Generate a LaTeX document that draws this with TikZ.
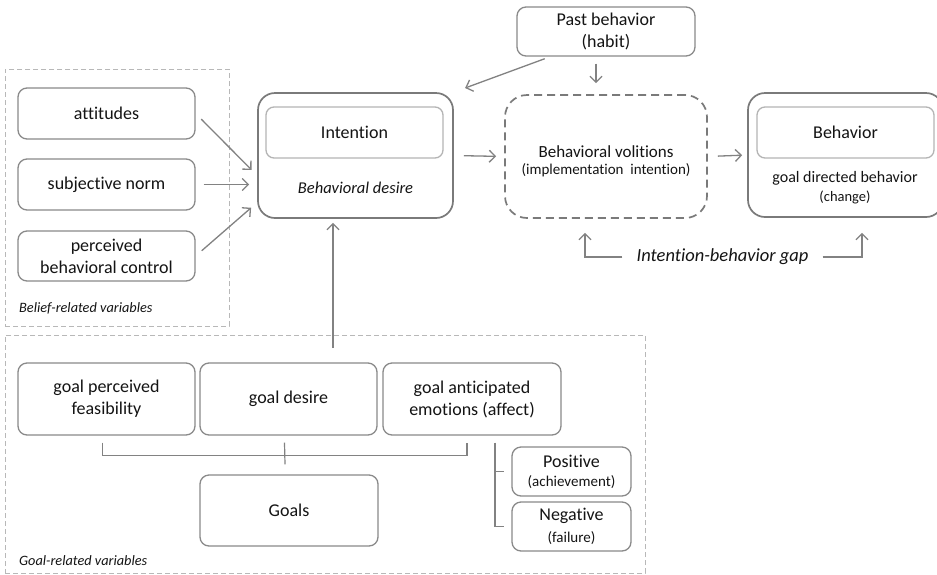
\documentclass[tikz,border=0pt]{standalone}
\usepackage{fontspec}
\setmainfont{Carlito}[Ligatures=NoCommon]
\usetikzlibrary{arrows.meta,calc}
\definecolor{txt}{HTML}{141414}
\definecolor{bord}{HTML}{8A8A8A}
\definecolor{lbord}{HTML}{B4B4B4}
\definecolor{obord}{HTML}{7A7A7A}
\definecolor{grp}{HTML}{B8B8B8}
\definecolor{arrc}{HTML}{828282}
\begin{document}
\begin{tikzpicture}[x=1pt,y=-1pt,
  box/.style={draw=bord, line width=1.3pt, rounded corners=9pt, text=txt, align=center,
    inner sep=0pt, font=\fontsize{18}{22}\selectfont},
  innerbox/.style={draw=lbord, line width=1.3pt, rounded corners=8pt, text=txt, align=center,
    inner sep=0pt, font=\fontsize{18}{22}\selectfont},
  outerbox/.style={draw=obord, line width=1.7pt, rounded corners=17pt, inner sep=0pt},
  volbox/.style={draw=obord, line width=1.7pt, rounded corners=22pt, inner sep=0pt,
    dash pattern=on 8pt off 5pt},
  grpbox/.style={draw=grp, line width=1pt, dash pattern=on 5pt off 3pt, inner sep=0pt},
  grplabel/.style={text=txt, inner sep=0pt, font=\fontsize{14.3}{17}\selectfont\itshape},
  plain/.style={text=txt, inner sep=0pt, align=center},
  arr/.style={draw=arrc, line width=1.3pt, -{Straight Barb[length=6pt,width=12pt]}},
  brk/.style={draw=arrc, line width=1.2pt}]
\useasboundingbox (0,0) rectangle (937,574);
\fill[white] (0,0) rectangle (937,574);

% group boxes
\node[grpbox, minimum width=224pt, minimum height=257pt] (belief) at (117,197.5) {};
\node[grpbox, minimum width=640pt, minimum height=238pt] (goalgrp) at (325,454) {};

% belief variables
\node[box, minimum width=177pt, minimum height=51pt] (att) at (106.5,113.5) {attitudes};
\node[box, minimum width=177pt, minimum height=51pt] (sn) at (106.5,184.5) {subjective norm};
\node[box, minimum width=177pt, minimum height=50pt] (pbc) at (106.5,256) {perceived\\behavioral control};
\node[grplabel, anchor=west] (blab) at (19,308) {Belief-related variables};

% intention
\node[outerbox, minimum width=195pt, minimum height=125pt] (int) at (355.5,155.5) {};
\node[innerbox, minimum width=177pt, minimum height=51pt] (intin) at (354.5,132.5) {Intention};
\node[plain, font=\fontsize{16.5}{19}\selectfont\itshape] (bdes) at (355.5,188) {Behavioral desire};

% past behavior
\node[box, minimum width=178pt, minimum height=49pt] (past) at (606,31.5) {Past behavior\\(habit)};

% volitions
\node[volbox, minimum width=202pt, minimum height=123pt] (vol) at (606,156.5) {};
\node[plain, font=\fontsize{17}{20}\selectfont] (voltitle) at (606,152) {Behavioral volitions};
\node[plain, font=\fontsize{15}{18}\selectfont] (volsub) at (606,170) {(implementation\ \ intention)};

% behavior
\node[outerbox, minimum width=195pt, minimum height=124pt] (beh) at (845.5,155) {};
\node[innerbox, minimum width=177pt, minimum height=51pt] (behin) at (845.5,132.5) {Behavior};
\node[plain, font=\fontsize{16}{19}\selectfont] (gdb) at (845,178) {goal directed behavior};
\node[plain, font=\fontsize{14.5}{17}\selectfont] (chg) at (845,197) {(change)};

% goal variables
\node[box, minimum width=177pt, minimum height=72pt] (gpf) at (106.5,399) {goal perceived\\feasibility};
\node[box, minimum width=177pt, minimum height=72pt] (gd) at (288.5,399) {goal desire};
\node[box, minimum width=178pt, minimum height=72pt] (gad) at (472,399) {goal anticipated\\emotions (affect)};
\node[box, minimum width=178pt, minimum height=71pt] (goals) at (289,510.5) {Goals};
\node[box, minimum width=119pt, minimum height=49pt] (pos) at (571.5,471.5)
  {Positive\\[-3pt]{\fontsize{15}{17}\selectfont (achievement)}};
\node[box, minimum width=119pt, minimum height=49pt] (neg) at (571.5,526.5)
  {Negative\\[0pt]{\fontsize{15}{17}\selectfont (failure)}};
\node[grplabel, anchor=west] (glab) at (19,561) {Goal-related variables};

% gap label
\node[plain, font=\fontsize{18.5}{21}\selectfont\itshape] (gap) at (722.5,257) {Intention-behavior gap};

% arrows into intention
\draw[arr, shorten <=8pt, shorten >=8pt] (att.east) -- ($(int.west)+(0,20)$);
\draw[arr, shorten <=8pt, shorten >=8pt] (sn.east) -- (int.west |- sn.east);
\draw[arr, shorten <=8pt, shorten >=8pt] (pbc.east) -- ($(int.west)+(0,47)$);
\draw[arr, shorten <=6pt, shorten >=12pt] ($(past.south west)+(34,0)$) -- (int.north east);
\draw[arr, shorten <=7pt, shorten >=11pt] ($(past.south)+(-10,0)$) -- ($(vol.north)+(-10,0)$);
\draw[arr, shorten <=10pt, shorten >=8pt] (int.east) -- (vol.west);
\draw[arr, shorten <=10pt, shorten >=5pt] (vol.east) -- (beh.west);
\coordinate (gstart) at (333,348);
\draw[arr, shorten >=4pt] (gstart) -- (gstart |- int.south);

% intention-behavior gap
\draw[arr] ($(gap.west)+(-14,0)$) -| ($(vol.south)+(-21,14)$);
\draw[arr] ($(gap.east)+(14,0)$) -| ($(beh.south)+(16.5,15)$);

% goal brackets
\draw[brk] ($(gpf.south)+(-4,7)$) -- ($(gpf.south)+(-4,20)$) -| ($(gad.south)+(-5,7)$);
\draw[brk] ($(gd.south)+(-4,7)$) -- ($(goals.north)+(-4,-10)$);
\draw[brk] ($(gad.south)+(23,7)$) |- ($(neg.west)+(-7,0)$);
\draw[brk] ($(pos.west)+(-17,0)$) -- ($(pos.west)+(-7,0)$);
\end{tikzpicture}
\end{document}
